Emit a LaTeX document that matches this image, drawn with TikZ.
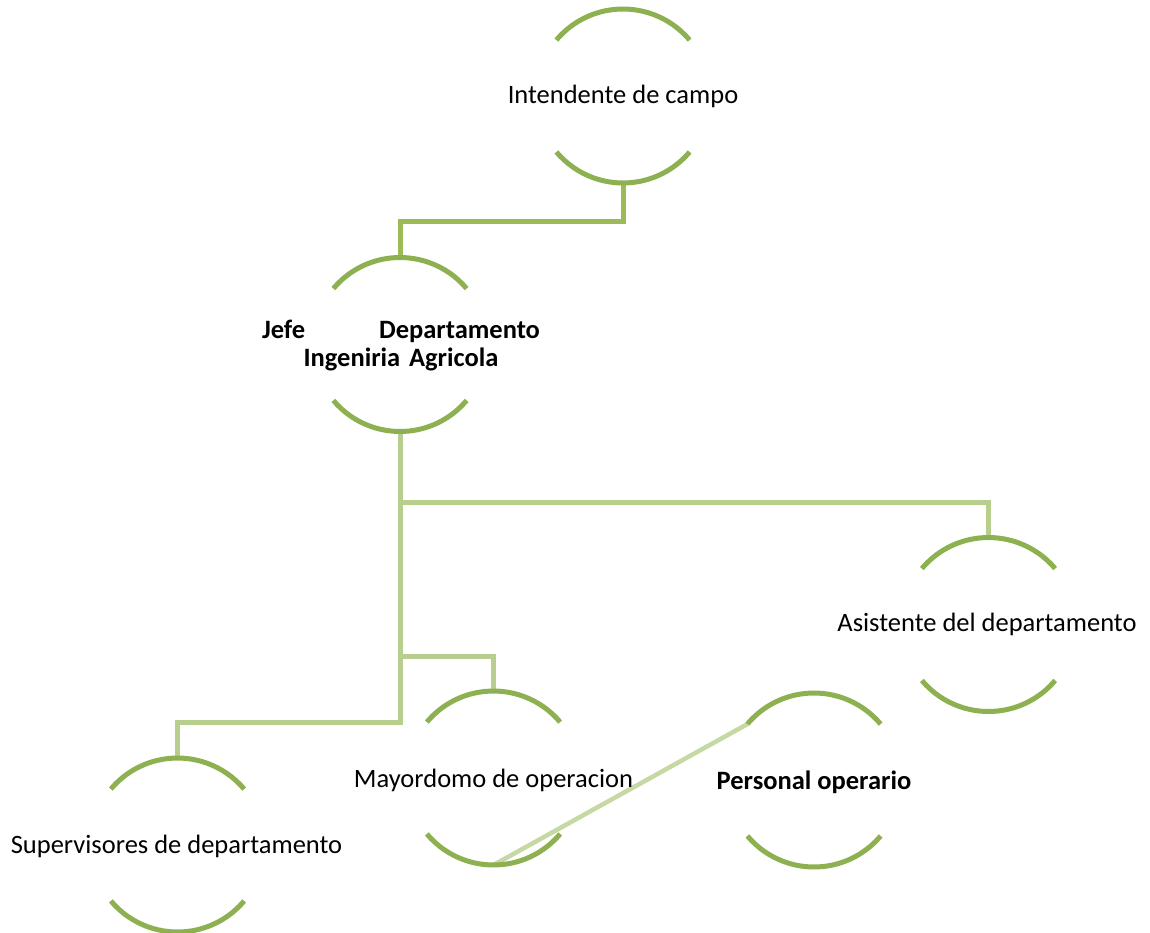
\documentclass[tikz,border=0pt]{standalone}
\usepackage{fontspec}
\setmainfont{Carlito}
\definecolor{ringgreen}{HTML}{8DB050}
\definecolor{linkA}{HTML}{9BBB59}
\definecolor{linkB}{HTML}{B7CE8C}
\definecolor{linkC}{HTML}{C6D9A5}
\begin{document}
\begin{tikzpicture}[x=1pt,y=1pt,
  ring/.style={circle, minimum size=174pt, inner sep=0pt, outer sep=0pt},
  txt/.style={inner sep=0pt, anchor=base, font=\fontsize{26.5}{28.5}\selectfont},
  arcline/.style={draw=ringgreen, line width=5pt},
  linkone/.style={draw=linkA, line width=5pt},
  linktwo/.style={draw=linkB, line width=5pt},
  linkthree/.style={draw=linkC, line width=4.5pt}]
\useasboundingbox (0,0) rectangle (1150,-933);

% invisible rings that carry the positions of the units
\node[ring] (int)  at (623,-96)    {};
\node[ring] (jefe) at (400,-344.5) {};
\node[ring] (asis) at (988.5,-624.5) {};
\node[ring] (mayo) at (493.5,-778) {};
\node[ring] (pers) at (814,-780)   {};
\node[ring] (sup)  at (177.5,-845) {};

% connectors
\draw[linkone] (int.south) -- ++(0,-39) -| (jefe.north);
\draw[linktwo] (jefe.south) |- ([yshift=35]asis.north) -- (asis.north);
\draw[linktwo] (jefe.south) |- ([yshift=35]mayo.north) -- (mayo.north);
\draw[linktwo] (jefe.south) |- ([yshift=36]sup.north) -- (sup.north);
\draw[linkthree] (mayo.south) -- (pers.140);

% upper and lower arcs of every ring
\foreach \n in {int,jefe,asis,mayo,pers,sup}{
  \draw[arcline] (\n.40) arc[start angle=40, end angle=140, radius=87];
  \draw[arcline] (\n.220) arc[start angle=220, end angle=320, radius=87];
}

% labels
\node[txt] (int-l)  at ([yshift=-8]int.center)  {Intendente de campo};
\node[txt, anchor=center, text width=278pt, align=center,
      font=\fontsize{26.5}{28.5}\selectfont\bfseries] (jefe-l)
      at ([xshift=1pt,yshift=-1pt]jefe.center) {Jefe\hfill Departamento\\Ingeniria Agricola};
\node[txt] (asis-l) at ([xshift=-1.5pt,yshift=-6.5]asis.center) {Asistente del departamento};
\node[txt] (mayo-l) at ([yshift=-9]mayo.center) {Mayordomo de operacion};
\node[txt, font=\fontsize{26.5}{28.5}\selectfont\bfseries] (pers-l) at ([yshift=-9]pers.center) {Personal operario};
\node[txt] (sup-l)  at ([xshift=-1pt,yshift=-8]sup.center) {Supervisores de departamento};
\end{tikzpicture}
\end{document}
